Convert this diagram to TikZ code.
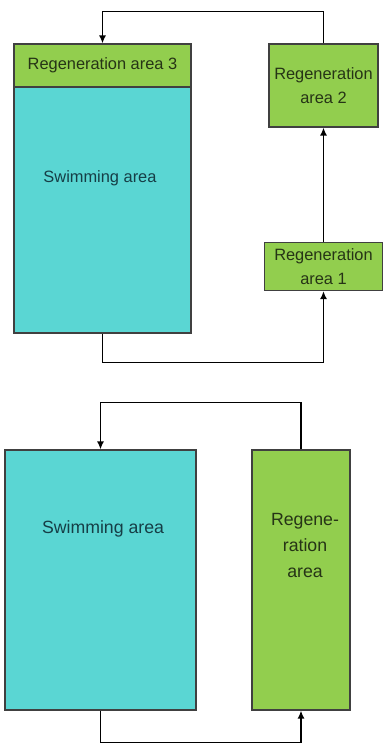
\documentclass[tikz,border=0pt]{standalone}
\usepackage{fontspec}
\setmainfont{Liberation Sans}
\usetikzlibrary{arrows.meta}
\definecolor{pool}{RGB}{90,214,211}
\definecolor{plant}{RGB}{146,206,78}
\definecolor{pooltext}{RGB}{22,62,70}
\definecolor{planttext}{RGB}{38,52,22}

\begin{document}
\begin{tikzpicture}[x=1bp, y=-1bp,
	box/.style={draw=black!75, line width=1.1bp, inner sep=0pt},
	swim/.style={box, fill=pool},
	regen/.style={box, fill=plant, align=center, text=planttext},
	small/.style={font=\fontsize{16.4bp}{24bp}\selectfont},
	big/.style={font=\fontsize{17.7bp}{26bp}\selectfont},
	flow/.style={line width=1.8bp, -{Latex[length=8bp,width=7bp]}}]
	\useasboundingbox (0,0) rectangle (383,744);

	% upper layout: three regeneration areas
	\node [regen, small, minimum width=177bp, minimum height=43bp] (reg3) at (102.5,65.5) {Regeneration area 3};
	\node [swim, minimum width=177bp, minimum height=246bp] (swimA) at (102.5,210) {};
	\node [small, text=pooltext] (swimAtext) at (100,178) {Swimming area}; % label
	\node [regen, small, minimum width=109bp, minimum height=83bp] (reg2) at (323.5,85.5) {Regeneration\\area 2};
	\node [regen, small, minimum width=118bp, minimum height=48bp] (reg1) at (323.5,266.5) {Regeneration\\area 1};

	\draw [flow] (swimA.south) -- ++(0,29) -| (reg1.south);
	\draw [flow] (reg1.north) -- (reg2.south);
	\draw [flow] (reg2.north) -- ++(0,-32) -| (reg3.north);

	% lower layout: one regeneration area
	\node [swim, minimum width=191bp, minimum height=260bp] (swimB) at (100.5,580) {};
	\node [big, text=pooltext] (swimBtext) at (103,529) {Swimming area}; % label
	\node [regen, minimum width=98bp, minimum height=260bp] (regB) at (301,580) {};
	\node [big, align=center, text=planttext] (regBtext) at (305,545) {Regene-\\ration\\area};

	\draw [flow] (swimB.south) -- ++(0,32) -| (regB.south);
	\draw [flow] (regB.north) -- ++(0,-47) -| (swimB.north);
\end{tikzpicture}
\end{document}
